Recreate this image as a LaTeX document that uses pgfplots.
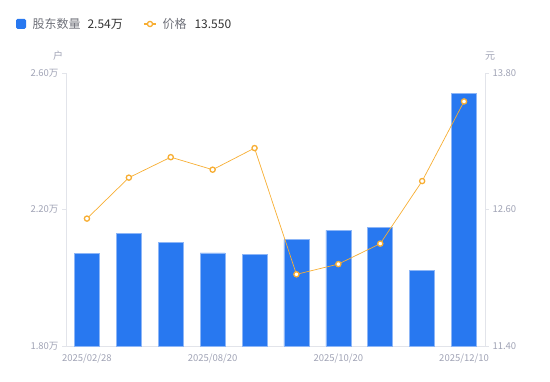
\documentclass[border=0pt]{standalone}
\usepackage{fontspec}
\setmainfont{Noto Sans CJK SC}
\usepackage{pgfplots}
\pgfplotsset{compat=1.18}
\definecolor{barblue}{HTML}{2878F0}
\definecolor{baredge}{HTML}{8DB6F7}
\definecolor{lineor}{HTML}{F7AE33}
\definecolor{ticktxt}{HTML}{A0A3B5}
\definecolor{axisgray}{HTML}{E2E4EA}
\definecolor{legtxt}{HTML}{6E7079}
\definecolor{dark}{HTML}{333333}
\begin{document}
\begin{tikzpicture}[x=1pt,y=1pt]
\useasboundingbox (0,0) rectangle (550,381);
\pgfplotsset{
  common/.style={
    at={(66pt,35pt)}, anchor=south west,
    scale only axis, width=419pt, height=273pt,
    xmin=-0.5, xmax=9.5,
    tick label style={font=\fontsize{9.5}{11}\selectfont, text=ticktxt},
    axis line style={draw=axisgray, line width=0.8pt},
    major tick style={draw=axisgray, line width=0.8pt},
    major tick length=4pt,
    tick align=outside,
  }
}
\begin{axis}[common,
  axis x line*=bottom, axis y line*=left,
  ymin=1.8, ymax=2.6,
  ytick={1.8,2.2,2.6}, yticklabels={1.80万,2.20万,2.60万},
  xtick={0,3,6,9},
  xticklabels={2025/02/28,2025/08/20,2025/10/20,2025/12/10},
  x tick style={draw=none},
  ybar, bar width=25pt,
  clip=false,
]
\addplot[fill=barblue, draw=baredge, line width=0.6pt] coordinates {
(0,2.072) (1,2.130) (2,2.104) (3,2.073) (4,2.068)
(5,2.112) (6,2.139) (7,2.147) (8,2.022) (9,2.540)};
\end{axis}
\begin{axis}[common,
  axis x line=none, axis y line*=right,
  ymin=11.4, ymax=13.8,
  ytick={11.4,12.6,13.8}, yticklabels={11.40,12.60,13.80},
  clip=false,
]
\addplot[color=lineor, line width=0.7pt, mark=*,
  mark options={draw=lineor, fill=white, line width=1.3pt}, mark size=2.6pt] coordinates {
(0,12.52) (1,12.88) (2,13.06) (3,12.95) (4,13.14)
(5,12.03) (6,12.12) (7,12.30) (8,12.85) (9,13.55)};
\end{axis}
% unit labels
\node[text=ticktxt, font=\fontsize{10}{12}\selectfont] at (58,325) {户};
\node[text=ticktxt, font=\fontsize{10}{12}\selectfont] at (490,325) {元};
% legend
\fill[barblue, rounded corners=1.5pt] (16,352) rectangle (26,362);
\node[anchor=west, text=legtxt, font=\fontsize{12}{14}\selectfont] at (29,357) {股东数量};
\node[anchor=west, text=dark, font=\fontsize{12}{14}\selectfont] at (84,357) {2.54万};
\draw[lineor, line width=1.3pt] (144,357) -- (156,357);
\filldraw[draw=lineor, fill=white, line width=1.3pt] (150,357) circle (2.6pt);
\node[anchor=west, text=legtxt, font=\fontsize{12}{14}\selectfont] at (159,357) {价格};
\node[anchor=west, text=dark, font=\fontsize{12}{14}\selectfont] at (191,357) {13.550};
\end{tikzpicture}
\end{document}
